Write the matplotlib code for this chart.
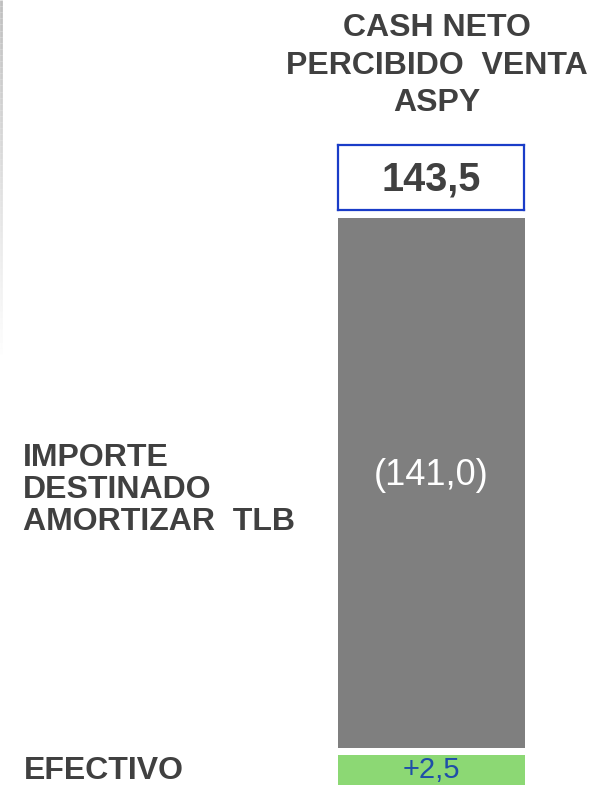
import numpy as np
import matplotlib
matplotlib.use("Agg")
import matplotlib.pyplot as plt
from matplotlib.collections import LineCollection

# ---- data ----
total_label = "CASH NETO\nPERCIBIDO  VENTA\nASPY"
total_value = 143.5
debt_label = "IMPORTE\nDESTINADO\nAMORTIZAR  TLB"
debt_value = -141.0
cash_label = "EFECTIVO"
cash_value = 2.5

W, H = 593, 785
fig = plt.figure(figsize=(W / 100, H / 100), dpi=100)
fig.patch.set_facecolor("white")

FONT = ["Liberation Sans", "DejaVu Sans"]
DARK = "#404040"
GRAY = "#7F7F7F"
GREEN = "#8CD874"
BLUE = "#1A3CC8"
BLUE_TXT = "#1F4FA8"


def rect(x0, y0, x1, y1):
    return [x0 / W, 1 - y1 / H, (x1 - x0) / W, (y1 - y0) / H]


def fmt(v, sign=False, paren=False):
    s = f"{abs(v):.1f}".replace(".", ",")
    if paren and v < 0:
        return f"({s})"
    if sign:
        return ("+" if v >= 0 else "-") + s
    return s


# left faint vertical line
ax_bg = fig.add_axes([0, 0, 1, 1])
ax_bg.set_xlim(0, W)
ax_bg.set_ylim(H, 0)
ax_bg.axis("off")
ys = np.linspace(0, 360, 60)
segs = [[(1, ys[i]), (1, ys[i + 1])] for i in range(len(ys) - 1)]
alphas = np.linspace(0.9, 0.0, len(segs))
cols = [(0.72, 0.72, 0.72, a) for a in alphas]
ax_bg.add_collection(LineCollection(segs, colors=cols, linewidths=2))

# total box
ax_t = fig.add_axes(rect(338, 145, 524, 210))
ax_t.set_xticks([]); ax_t.set_yticks([])
for s in ax_t.spines.values():
    s.set_color(BLUE); s.set_linewidth(1.6)
ax_t.text(0.5, 0.47, fmt(total_value), ha="center", va="center",
          fontsize=28.5, fontweight="bold", color=DARK, family=FONT,
          transform=ax_t.transAxes)

# debt bar
ax_d = fig.add_axes(rect(338, 218, 525, 748))
ax_d.bar([0], [abs(debt_value)], width=1.0, color=GRAY)
ax_d.set_xlim(-0.5, 0.5); ax_d.set_ylim(0, abs(debt_value))
ax_d.axis("off")
ax_d.text(0, abs(debt_value) / 2 + 2, fmt(debt_value, paren=True), ha="center",
          va="center", fontsize=26, color="white", family=FONT)

# cash bar
ax_c = fig.add_axes(rect(338, 755, 525, 785))
ax_c.bar([0], [cash_value], width=1.0, color=GREEN)
ax_c.set_xlim(-0.5, 0.5); ax_c.set_ylim(0, cash_value)
ax_c.axis("off")
ax_c.text(0, cash_value / 2, fmt(cash_value, sign=True), ha="center",
          va="center", fontsize=21, color=BLUE_TXT, family=FONT)

# labels
for i, line in enumerate(total_label.split("\n")):
    ax_bg.text(437, [36, 74, 111][i], line, ha="center", va="baseline",
               fontsize=23, fontweight="bold", color=DARK, family=FONT)
for i, line in enumerate(debt_label.split("\n")):
    ax_bg.text(23, [466, 498, 530][i], line, ha="left", va="baseline",
               fontsize=23, fontweight="bold", color=DARK, family=FONT)
ax_bg.text(24, 779, cash_label, ha="left", va="baseline",
           fontsize=23, fontweight="bold", color=DARK, family=FONT)

fig.savefig("out.png", dpi=100)
